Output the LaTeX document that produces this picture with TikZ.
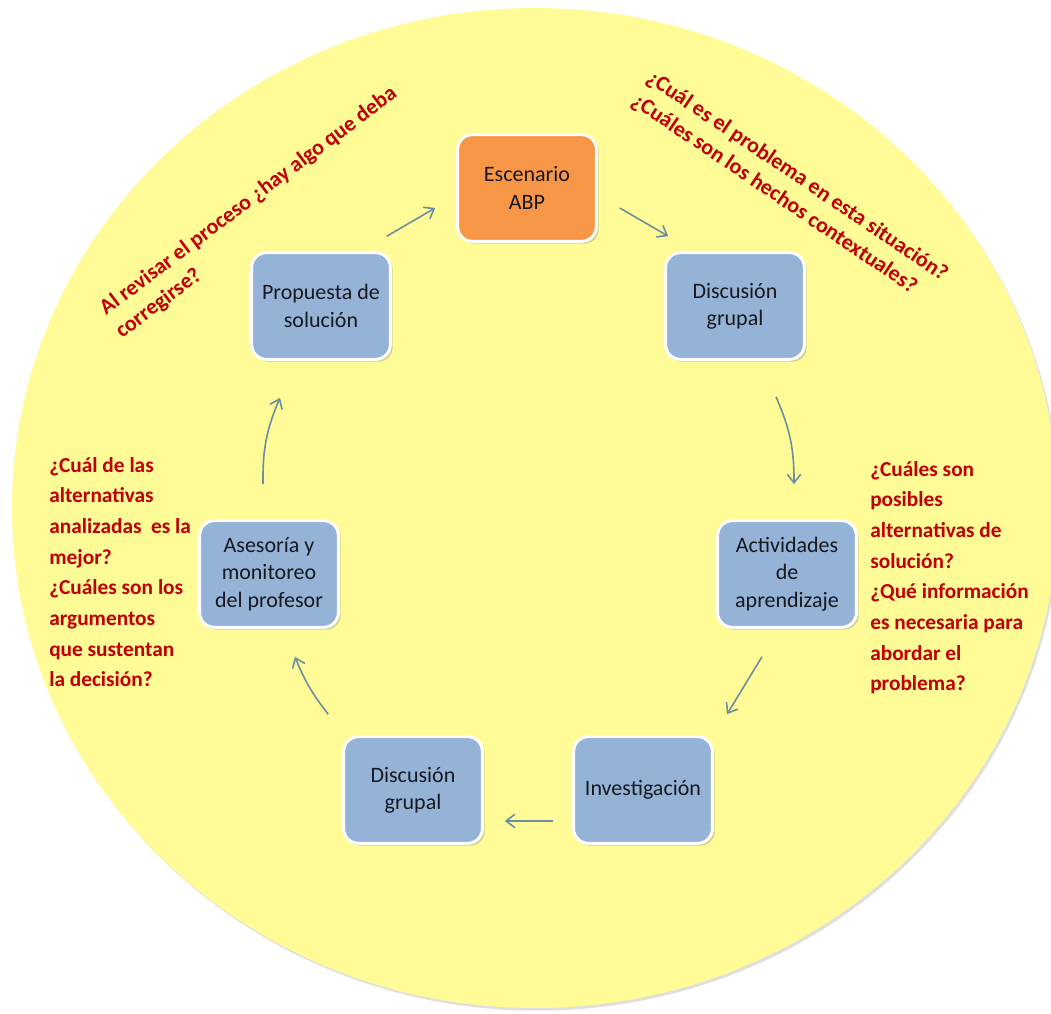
\documentclass[tikz,border=0pt]{standalone}
\usepackage{fontspec}
\setmainfont{Carlito}
\usetikzlibrary{shadows,arrows.meta,calc}
\definecolor{ellfill}{HTML}{FFFB96}
\definecolor{boxblue}{HTML}{95B3D7}
\definecolor{boxorange}{HTML}{F79646}
\definecolor{boxtext}{HTML}{18181F}
\definecolor{qred}{HTML}{C00000}
\definecolor{arrowc}{HTML}{6A8FA0}
\begin{document}
\begin{tikzpicture}[x=0.75pt,y=-0.75pt,
  box/.style={draw=white, line width=2.2pt, rounded corners=11pt,
    minimum width=104pt, minimum height=80pt, inner sep=2pt, align=center,
    font=\fontsize{16.5}{20.5}\selectfont, text=boxtext, fill=boxblue,
    drop shadow={shadow xshift=1.8pt, shadow yshift=-1.8pt, opacity=0.35}},
  arr/.style={draw=arrowc, line width=1.2pt, -{Straight Barb[length=6.5pt,width=10pt]}},
  question/.style={text=qred, font=\fontsize{16}{23}\selectfont\bfseries, align=left, inner sep=0pt, anchor=north west},
  tiltq/.style={text=qred, font=\fontsize{16.5}{20}\selectfont\bfseries, inner sep=0pt, anchor=base west}]
\useasboundingbox (0,0) rectangle (1051,1014);
\path[fill=ellfill, drop shadow={shadow xshift=1.5pt, shadow yshift=-2pt, opacity=0.25}] (535,508) ellipse [x radius=523, y radius=500];

\node[box, fill=boxorange] (esc) at (527,188) {Escenario\\ABP};
\node[box] (prop) at (321,306) {Propuesta de\\solución};
\node[box] (disc1) at (735,306) {Discusión\\grupal};
\node[box] (act) at (787,574) {Actividades\\de\\aprendizaje};
\node[box] (ases) at (269,574) {Asesoría y\\monitoreo\\del profesor};
\node[box] (disc2) at (413,790) {Discusión\\grupal};
\node[box] (inv) at (643,790) {Investigación};

\draw[arr] ($(prop.north east)+(-5,-15)$) -- ($(esc.west)+(-21,20)$);
\draw[arr] ($(esc.east)+(22,20)$) -- ($(disc1.north west)+(4,-15)$);
\draw[arr] ($(disc1.south)+(41,36)$) to[bend left=12] ($(act.north)+(7,-35)$);
\draw[arr] ($(act.south)+(-25,28)$) -- ($(inv.north)+(84,-21)$);
\draw[arr] ($(inv.west)+(-19,31)$) -- ($(disc2.east)+(21,31)$);
\draw[arr] ($(disc2.north west)+(-14,-21)$) to[bend left=8] ($(ases.south)+(26,28)$);
\draw[arr] ($(ases.north)+(-6,-35)$) to[bend left=12] ($(prop.south)+(-41,37)$);

\node[tiltq, rotate=37] (tl1) at (106,316) {Al revisar el proceso ¿hay algo que deba};
\node[tiltq, rotate=37] (tl2) at (122,339) {corregirse?};
\node[tiltq, rotate=-34] (tr1) at (645,81) {¿Cuál es el problema en esta situación?};
\node[tiltq, rotate=-34] (tr2) at (630,104) {¿Cuáles son los hechos contextuales?};

\node[question] (lq) at (49,457) {¿Cuál de las\\alternativas\\analizadas\ \ es la\\mejor?\\¿Cuáles son los\\argumentos\\que sustentan\\la decisión?};
\node[question] (rq) at (870,461) {¿Cuáles son\\posibles\\alternativas de\\solución?\\¿Qué información\\es necesaria para\\abordar el\\problema?};
\end{tikzpicture}
\end{document}
